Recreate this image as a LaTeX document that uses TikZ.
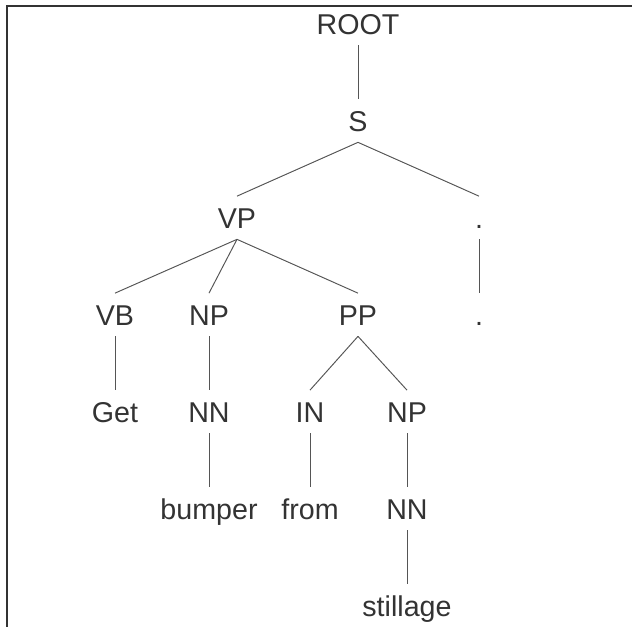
\documentclass[tikz,border=0pt]{standalone}
\usepackage{fontspec}
\setmainfont{Liberation Sans}
\usepackage{tikz}
\definecolor{inkgray}{HTML}{333333}
\definecolor{branchgray}{HTML}{555555}

\begin{document}
\begin{tikzpicture}[-,node distance=1.94cm,
    tag/.style={text=inkgray, font=\fontsize{16.3}{19}\selectfont,
      text height=0.45cm, text depth=0pt, inner xsep=1pt, inner ysep=0.2cm},
    branch/.style={draw=branchgray, line width=0.55pt}]
  \useasboundingbox (-7.16,0.475) rectangle (5.48,-12.065);
  % frame, left and top edges only
  \draw[line width=1.1pt, draw=inkgray] (-7.02,-12.065) -- (-7.02,0.355) -- (5.48,0.355);

  \node (ROOT)     [tag]                                   {ROOT};
  \node (S)        [tag, below of=ROOT]                    {S};
  \node (VP)       [tag, below of=S, xshift=-2.42cm]       {VP};
  \node (dotA)     [tag, below of=S, xshift=2.42cm]        {.};
  \node (VB)       [tag, below of=VP, xshift=-2.44cm]      {VB};
  \node (NPa)      [tag, below of=VP, xshift=-0.56cm]      {NP};
  \node (PP)       [tag, below of=VP, xshift=2.42cm]       {PP};
  \node (dotB)     [tag, below of=dotA]                    {.};
  \node (Get)      [tag, below of=VB]                      {Get};
  \node (NNa)      [tag, below of=NPa]                     {NN};
  \node (IN)       [tag, below of=PP, xshift=-0.96cm]      {IN};
  \node (NPb)      [tag, below of=PP, xshift=0.98cm]       {NP};
  \node (bumper)   [tag, below of=NNa]                     {bumper};
  \node (from)     [tag, below of=IN]                      {from};
  \node (NNb)      [tag, below of=NPb]                     {NN};
  \node (stillage) [tag, below of=NNb]                     {stillage};

  \path[branch] (ROOT.south) edge (S.north)
        (S.south)   edge (VP.north)
                    edge (dotA.north)
        (VP.south)  edge (VB.north)
                    edge (NPa.north)
                    edge (PP.north)
        (dotA.south) edge (dotB.north)
        (VB.south)  edge (Get.north)
        (NPa.south) edge (NNa.north)
        (PP.south)  edge (IN.north)
                    edge (NPb.north)
        (NNa.south) edge (bumper.north)
        (IN.south)  edge (from.north)
        (NPb.south) edge (NNb.north)
        (NNb.south) edge (stillage.north);
\end{tikzpicture}
\end{document}
